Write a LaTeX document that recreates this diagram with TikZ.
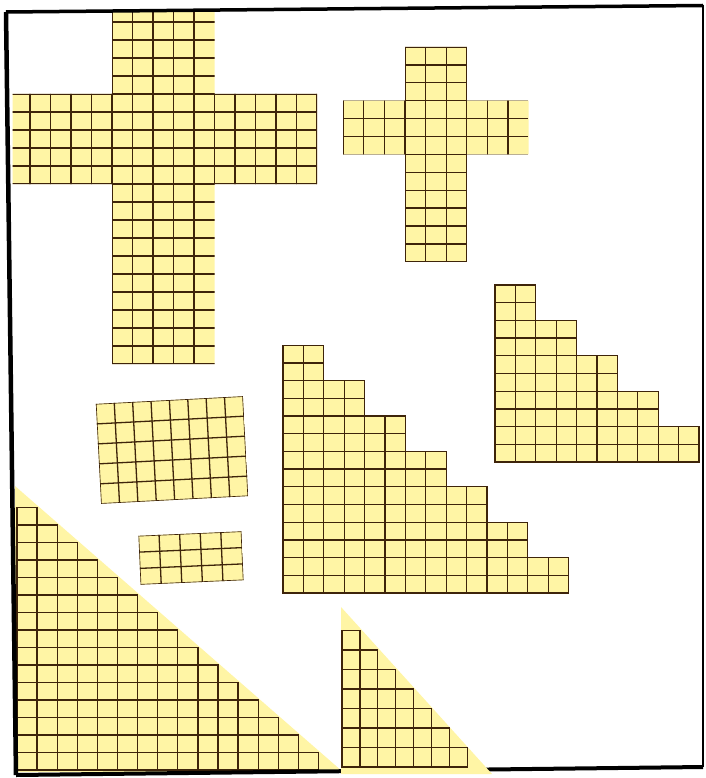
\documentclass[tikz,border=0pt]{standalone}
\definecolor{paper}{RGB}{255,245,165}
\definecolor{gridc}{RGB}{62,36,10}
\tikzset{
  gridline/.style={draw=gridc, line width=1.3pt},
  frameline/.style={draw=black, line cap=square}
}
\newcommand\gridlines[6]{%
  \foreach \i in {0,...,#5} \draw[gridline] ({#1+#3*\i},#2) -- ({#1+#3*\i},{#2+#4*#6});
  \foreach \j in {0,...,#6} \draw[gridline] (#1,{#2+#4*\j}) -- ({#1+#3*#5},{#2+#4*\j});
}
\newcommand\stairs[8]{%
  \foreach \c in {1,...,#5}{%
    \pgfmathtruncatemacro\colh{#6-#7*floor((\c-1)/#8)}%
    \fill[paper] ({#1+#3*(\c-1)},#2) rectangle ({#1+#3*\c},{#2-#4*\colh});
  }
  \foreach \c in {1,...,#5}{%
    \pgfmathtruncatemacro\colh{#6-#7*floor((\c-1)/#8)}%
    \foreach \r in {1,...,\colh}
      \draw[gridline] ({#1+#3*(\c-1)},{#2-#4*(\r-1)}) rectangle ({#1+#3*\c},{#2-#4*\r});
  }
}
\begin{document}
\begin{tikzpicture}[x=1pt,y=-1pt]
\useasboundingbox (0,0) rectangle (705,778);
\fill[white] (0,0) rectangle (705,778);

% big cross
\begin{scope}
  \clip (12.5,13) rectangle (705,778);
  \fill[paper] (112,4) -- (214.5,4) -- (214.5,94) -- (317,94) -- (317,184) -- (214.5,184) -- (214.5,364) -- (112,364) -- (112,184) -- (9.5,184) -- (9.5,94) -- (112,94) -- cycle;
  \clip (112,4) -- (214.5,4) -- (214.5,94) -- (317,94) -- (317,184) -- (214.5,184) -- (214.5,364) -- (112,364) -- (112,184) -- (9.5,184) -- (9.5,94) -- (112,94) -- cycle;
  \gridlines{9.5}{4}{20.5}{18}{15}{20}
\end{scope}

% small cross
\begin{scope}
  \fill[paper] (405,47) -- (466.8,47) -- (466.8,100.7) -- (528.6,100.7) -- (528.6,154.4) -- (466.8,154.4) -- (466.8,261.8) -- (405,261.8) -- (405,154.4) -- (343.2,154.4) -- (343.2,100.7) -- (405,100.7) -- cycle;
  \clip (405,47) -- (466.8,47) -- (466.8,100.7) -- (528.6,100.7) -- (528.6,154.4) -- (466.8,154.4) -- (466.8,261.8) -- (405,261.8) -- (405,154.4) -- (343.2,154.4) -- (343.2,100.7) -- (405,100.7) -- cycle;
  \gridlines{343.2}{47}{20.6}{17.9}{9}{12}
\end{scope}

% large rectangle
\begin{scope}[shift={(172,450)}, rotate=3]
  \fill[paper] (-73.6,-50) rectangle (73.6,50);
  \clip (-73.6,-50) rectangle (73.6,50);
  \gridlines{-73.6}{-50}{18.4}{20}{8}{5}
\end{scope}

% small rectangle
\begin{scope}[shift={(191,558)}, rotate=2.5]
  \fill[paper] (-51.5,-24.45) rectangle (51.5,24.45);
  \clip (-51.5,-24.45) rectangle (51.5,24.45);
  \gridlines{-51.5}{-24.45}{20.6}{16.3}{5}{3}
\end{scope}

% right staircase
\stairs{495}{462}{20.4}{17.7}{10}{10}{2}{2}
% middle staircase
\stairs{283}{593}{20.4}{17.7}{14}{14}{2}{2}

% big bottom-left triangle
\fill[paper] (15,486) -- (15,772) -- (343,772) -- cycle;
\stairs{17}{770}{20.1}{17.5}{15}{15}{1}{1}

% frame
\coordinate (TL) at (6,12);
\coordinate (TR) at (703,5.5);
\coordinate (BR) at (703,767);
\coordinate (BL) at (16,775);
\draw[frameline, line width=3.5pt] (TL) -- (TR);
\draw[frameline, line width=1.8pt] (TR) -- (BR);
\draw[frameline, line width=4pt] (BL) -- (BR);
\draw[frameline, line width=4.5pt] (TL) -- (BL);

% small bottom triangle
\fill[paper] (341,607) -- (341,774) -- (492,774) -- cycle;
\stairs{342}{767}{17.9}{19.5}{7}{7}{1}{1}
\end{tikzpicture}
\end{document}
